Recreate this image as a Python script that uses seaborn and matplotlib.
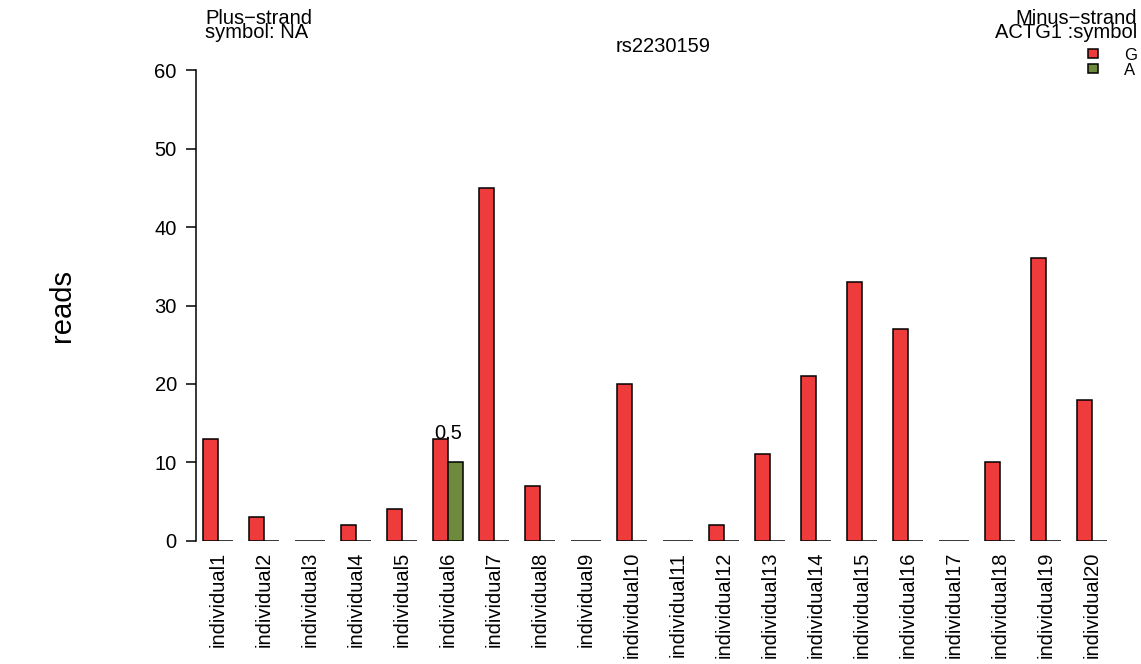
import numpy as np
import pandas as pd
import matplotlib
matplotlib.use("Agg")
import matplotlib.pyplot as plt
import seaborn as sns

# read counts per individual and allele
individuals = [f"individual{i}" for i in range(1, 21)]
g_reads = [13, 3, 0, 2, 4, 13, 45, 7, 0, 20, 0, 2, 11, 21, 33, 27, 0, 10, 36, 18]
a_reads = [0, 0, 0, 0, 0, 10, 0, 0, 0, 0, 0, 0, 0, 0, 0, 0, 0, 0, 0, 0]
alleles = ["G", "A"]
allele_colors = {"G": "#EE3B3B", "A": "#6E8B3D"}
ratio_labels = {"individual6": "0.5"}
snp_name = "rs2230159"
y_ticks = [0, 10, 20, 30, 40, 50, 60]

df = pd.DataFrame({
    "individual": individuals * 2,
    "allele": ["G"] * len(individuals) + ["A"] * len(individuals),
    "reads": g_reads + a_reads,
})

sns.set_style("white")
plt.rcParams["font.family"] = ["Liberation Sans", "DejaVu Sans"]
plt.rcParams["text.color"] = "black"
plt.rcParams["axes.labelcolor"] = "black"
plt.rcParams["xtick.color"] = "black"
plt.rcParams["ytick.color"] = "black"
plt.rcParams["axes.edgecolor"] = "black"

W, H = 1141, 664
fig = plt.figure(figsize=(W / 100, H / 100), dpi=100)
ax = fig.add_axes([195.6 / W, (H - 540.7) / H, (W - 195.6) / W, (540.7 - 70.3) / H])

sns.barplot(data=df, x="individual", y="reads", hue="allele",
            hue_order=alleles, palette=allele_colors, order=individuals,
            width=2 / 3, saturation=1, edgecolor="black", linewidth=1.1,
            legend=False, ax=ax)

px = 46.0
ax.set_xlim((195.6 - 218.0) / px, (W - 218.0) / px)
ax.set_ylim(0, 60)
ax.set_yticks(y_ticks)
ax.set_xlabel("")
ax.set_ylabel("")
for s in ["top", "right", "bottom"]:
    ax.spines[s].set_visible(False)
ax.spines["left"].set_bounds(0, 60)
ax.spines["left"].set_linewidth(1.1)
ax.spines["left"].set_color("black")
ax.tick_params(axis="y", length=7, width=1.1, pad=6.5, labelsize=14.5, left=True,
               colors="black")
ax.tick_params(axis="x", length=0, pad=8, labelsize=14.5, labelrotation=90,
               colors="black")
for lab in ax.get_xticklabels():
    lab.set_va("top")

# ratio text above individual6
for name, txt in ratio_labels.items():
    i = individuals.index(name)
    ax.text(i, max(g_reads[i], a_reads[i]), txt, ha="center", va="baseline",
            fontsize=14.5, color="black")

fig.text(62 / W, 0.5 + (H / 2 - 305) / H, "reads", rotation=90, ha="center",
         va="center", fontsize=21, color="black")

def ftext(x, y, s, **kw):
    fig.text(x / W, 1 - y / H, s, va="baseline", fontsize=14.5, color="black", **kw)

ftext(205, 23.5, "Plus\u2212strand", ha="left")
ftext(205, 38.5, "symbol: NA", ha="left")
ftext(1137, 23.5, "Minus\u2212strand", ha="right")
ftext(1137, 38.5, "ACTG1 :symbol", ha="right")
ftext(663, 52, snp_name, ha="center")

# legend
for al, ytop in zip(alleles, [48.5, 63.5]):
    fig.patches.append(plt.Rectangle((1088 / W, 1 - (ytop + 9.5) / H), 10 / W, 9.5 / H,
                                     facecolor=allele_colors[al], edgecolor="black",
                                     linewidth=1.1, transform=fig.transFigure, figure=fig))
    fig.text(1124 / W, 1 - (ytop + 11.5) / H, al, va="baseline", ha="left",
             fontsize=12, color="black")

fig.savefig("out.png", dpi=100)
